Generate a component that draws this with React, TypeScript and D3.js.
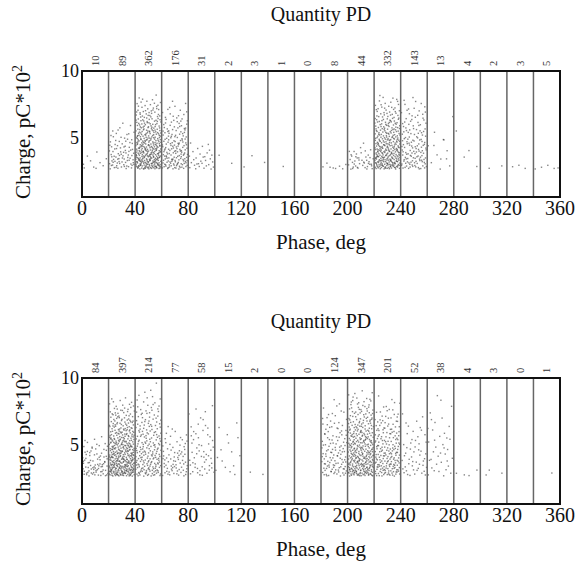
import React from 'react';
import * as d3 from 'd3';

// phase bins are 20 deg wide, 18 bins over 0..360
const binStarts = [0, 20, 40, 60, 80, 100, 120, 140, 160, 180, 200, 220, 240, 260, 280, 300, 320, 340];
const phaseTicks = [0, 40, 80, 120, 160, 200, 240, 280, 320, 360];
const chargeTicks = [5, 10];

// number of PD pulses per bin (labels above each panel)
const countsTop = [10, 89, 362, 176, 31, 2, 3, 1, 0, 8, 44, 332, 143, 13, 4, 2, 3, 5];
const countsBottom = [84, 397, 214, 77, 58, 15, 2, 0, 0, 124, 347, 201, 52, 38, 4, 3, 0, 1];

// upper envelope of the charge cloud in each bin (pC*10^2)
const maxChargeTop = [4.2, 6.3, 8.4, 8.0, 4.8, 5.2, 4.2, 3.0, 0, 3.2, 4.6, 8.4, 8.6, 6.8, 6.2, 3.0, 3.2, 3.0];
const maxChargeBottom = [5.8, 8.8, 9.7, 6.6, 8.7, 8.0, 3.3, 0, 0, 8.6, 9.4, 8.8, 8.0, 9.3, 3.5, 3.2, 0, 3.0];
const minCharge = 2.6; // detection threshold

const W = 579;
const H = 567;
const margin = { left: 82, right: 19, top: 71 };
const plotH = 126;
const panelOffsets = [0, 307];
const serif = '"Liberation Serif", "Times New Roman", serif';

// Halton sequence to spread the dots of a bin evenly (deterministic)
function halton(i: number, base: number) {
  let f = 1, r = 0;
  while (i > 0) {
    f = f / base;
    r += f * (i % base);
    i = Math.floor(i / base);
  }
  return r;
}

type Dot = { phase: number; charge: number };

function buildDots(counts: number[], maxCharge: number[], seed: number): Dot[] {
  const dots: Dot[] = [];
  let g = seed;
  counts.forEach((n, i) => {
    for (let k = 0; k < n; k++) {
      g++;
      const u = halton(g, 2);
      const v = halton(g, 3);
      const hi = Math.max(maxCharge[i], minCharge + 0.3);
      // density falls off linearly from the threshold to the envelope
      dots.push({
        phase: binStarts[i] + 0.5 + u * 19,
        charge: minCharge + (hi - minCharge) * (1 - Math.sqrt(v)),
      });
    }
  });
  return dots;
}

const x = d3.scaleLinear().domain([0, 360]).range([margin.left, W - margin.right]);
const y = d3.scaleLinear().domain([0.5, 10]).range([plotH, 0]);

function Panel({ offset, counts, maxCharge, seed }: { offset: number; counts: number[]; maxCharge: number[]; seed: number }) {
  const dots = buildDots(counts, maxCharge, seed);
  const top = margin.top + offset;
  const x0 = x(0);
  const x1 = x(360);
  const cx = (x0 + x1) / 2;
  return (
    <g>
      <text x={cx} y={offset + 21} textAnchor="middle" fontFamily={serif} fontSize={20} fill="#111">
        Quantity PD
      </text>
      {counts.map((c, i) => {
        const bx = x(binStarts[i] + 10);
        const by = top - 5;
        return (
          <text
            key={'c' + i}
            transform={`translate(${bx},${by}) rotate(-90)`}
            dy="0.35em"
            textAnchor="start"
            fontFamily={serif}
            fontSize={10.5}
            fill="#333"
          >
            {c}
          </text>
        );
      })}
      <g transform={`translate(0,${top})`}>
        {dots.map((d, i) => (
          <rect key={'d' + i} x={x(d.phase) - 0.7} y={y(d.charge) - 0.7} width={1.4} height={1.4} fill="#222" opacity={0.55} />
        ))}
        {binStarts.slice(1).map((b) => (
          <line key={'v' + b} x1={x(b)} x2={x(b)} y1={0} y2={plotH} stroke="#666" strokeWidth={1.5} />
        ))}
        <rect x={x0} y={0} width={x1 - x0} height={plotH} fill="none" stroke="#111" strokeWidth={2} />
        {chargeTicks.map((t) => (
          <text key={'y' + t} x={x0 - 3} y={y(t)} dy="0.35em" textAnchor="end" fontFamily={serif} fontSize={18} fill="#111">
            {t}
          </text>
        ))}
        {phaseTicks.map((t) => (
          <text key={'x' + t} x={x(t)} y={plotH + 18} textAnchor="middle" fontFamily={serif} fontSize={20} fill="#111">
            {t}
          </text>
        ))}
        <text x={cx} y={plotH + 52} textAnchor="middle" fontFamily={serif} fontSize={21} fill="#111">
          Phase, deg
        </text>
        <text
          transform={`translate(30,${plotH / 2 - 2}) rotate(-90)`}
          textAnchor="middle"
          fontFamily={serif}
          fontSize={21}
          fill="#111"
        >
          Charge, pC*10<tspan dy="-8" fontSize={14}>2</tspan>
        </text>
      </g>
    </g>
  );
}

export default function App() {
  return (
    <svg width={W} height={H} style={{ position: 'absolute', left: 0, top: 0, background: '#fff' }}>
      <Panel offset={panelOffsets[0]} counts={countsTop} maxCharge={maxChargeTop} seed={7} />
      <Panel offset={panelOffsets[1]} counts={countsBottom} maxCharge={maxChargeBottom} seed={1500} />
    </svg>
  );
}
